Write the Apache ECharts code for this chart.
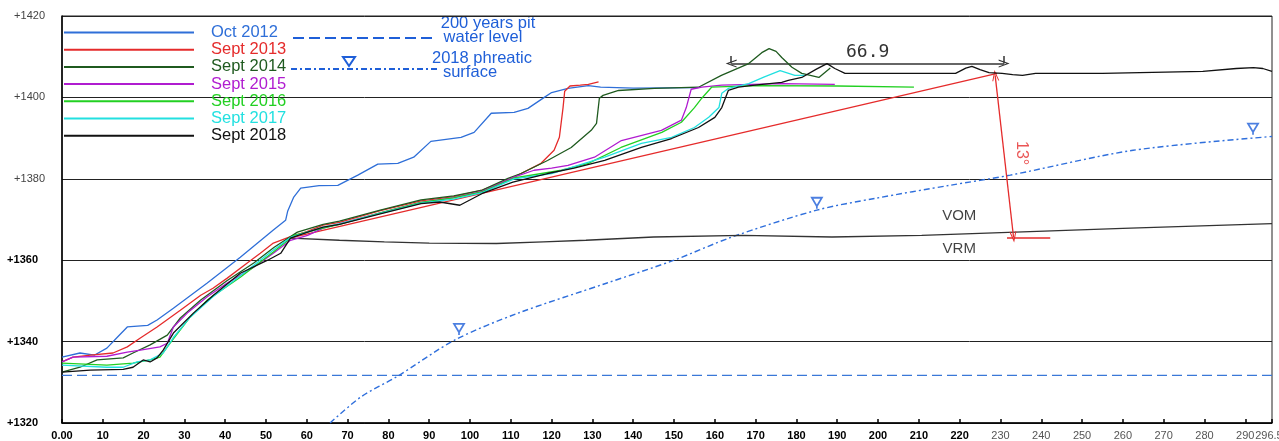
<!DOCTYPE html>
<html><head><meta charset="utf-8">
<script src="https://cdn.jsdelivr.net/npm/echarts@6/dist/echarts.min.js"></script>
<style>html,body{margin:0;padding:0;background:#fff;overflow:hidden;width:1279px;height:441px}#c{width:1279px;height:441px}</style>
</head><body><div id="c"></div>
<script>
const FONT = '"Liberation Sans", Arial, sans-serif';
const xMin = 0, xMax = 296.55, xStep = 10;
const yMin = 1320, yMax = 1420, yStep = 20;

const surveyNames = ['Oct 2012', 'Sept 2013', 'Sept 2014', 'Sept 2015', 'Sept 2016', 'Sept 2017', 'Sept 2018'];
const surveyColors = ['#2f6fd8', '#e52b2b', '#1f5a1f', '#b01cd0', '#22d022', '#22e0e0', '#111111'];

const oct2012 = [[0,1336.2],[4.4,1337.2],[8,1336.7],[11,1338.4],[13.5,1341],[16,1343.6],[21,1344],[23.3,1345.3],[27.3,1348.2],[35.6,1354.4],[43.7,1360.7],[51.8,1367.4],[54.8,1369.8],[55.3,1372],[56.8,1375.5],[58.5,1377.7],[63,1378.3],[67.6,1378.4],[72.5,1380.9],[77.4,1383.6],[82.3,1383.8],[86.2,1385.3],[90.4,1389.2],[97.8,1390.2],[101,1391.4],[105.2,1396.1],[110.8,1396.3],[114.2,1397.3],[118.2,1400],[120,1401.2],[124,1402.2],[129,1402.9],[132,1402.5],[140,1402.3],[156,1402.4]];
const sept2013 = [[0,1335],[2.7,1336.2],[7,1336.7],[12.5,1337.2],[16,1338.7],[19.2,1340.9],[23.3,1343.6],[29,1347.7],[34,1351.4],[37,1353.1],[40.5,1355.6],[45.4,1359.3],[48.6,1361.7],[51.8,1364.2],[56,1365.8],[60,1367],[64,1368.6],[68,1369.3],[78,1372.2],[88,1374.6],[96,1375.6],[103,1377.2],[109,1379.6],[112.5,1381.3],[117.4,1383.8],[120.6,1387],[121.9,1390.2],[122.8,1397.5],[123.2,1401.5],[124.5,1402.8],[127,1403],[129,1403.2],[131.5,1403.8]];
const sept2014 = [[0,1332.5],[4.4,1333.7],[8.6,1335.5],[15,1336],[17.4,1337.2],[21.6,1339.2],[25.8,1341.6],[29,1345.8],[34,1350.2],[40.5,1355],[47,1359.3],[52,1363.2],[57.7,1366.9],[64,1368.8],[68,1369.6],[78,1372.3],[88,1374.8],[96,1375.8],[103,1377.2],[109.3,1380.1],[112.5,1381.3],[119,1384.5],[124.8,1387.7],[129.7,1391.9],[131,1393.6],[131.7,1399.8],[132.6,1400.5],[136.4,1401.7],[145.2,1402.2],[156,1402.5],[161.6,1405.4],[168.3,1408.3],[171.5,1411],[173.3,1412],[175,1411.3],[176.4,1409.8],[178.9,1407.4],[181.3,1405.9],[185.5,1404.9],[188.3,1407.2]];
const sept2015 = [[0,1335],[2.7,1336.2],[11,1336.4],[16,1337.4],[19.2,1337.9],[24,1338.7],[25.8,1339.6],[27.3,1343.6],[30.7,1347],[35.6,1351],[40.5,1354.4],[47,1358.3],[51.8,1361.7],[56,1364.9],[60.2,1366.1],[64,1367.9],[68,1368.9],[78,1371.6],[88,1374.2],[96,1375.4],[103,1376.9],[110.8,1380.4],[115.7,1382.1],[120,1382.6],[124,1383.3],[130.5,1385.3],[137.1,1389.4],[146.9,1391.9],[151.8,1394.4],[153,1397.5],[154.2,1402],[156.8,1402.5],[161.7,1403],[176.4,1403.4],[189.4,1403.2]];
const sept2016 = [[0,1334.7],[11,1334.2],[17.4,1334.7],[21.6,1335.5],[24,1336.2],[26.5,1339.6],[31.4,1346],[35.6,1350.2],[43.7,1355.8],[51.8,1362],[56.8,1366.1],[64,1367.9],[68,1368.8],[78,1371.6],[88,1374.2],[96,1375.3],[103,1376.8],[110.8,1380.2],[122.4,1382.1],[129,1383.8],[137,1387.7],[147,1391.4],[151.8,1393.9],[155,1397.5],[156.8,1399.8],[159.2,1402.5],[170,1402.9],[190,1402.8],[208.8,1402.5]];
const sept2017 = [[0,1334.2],[11,1333.7],[15,1333.7],[18.4,1335],[21.6,1335.5],[24.8,1337.2],[27.3,1341],[31.4,1346],[37,1351],[43.7,1356.2],[51.8,1362.5],[56,1365.6],[64,1368.1],[68,1368.9],[78,1371.5],[88,1374],[96,1375],[103,1376.6],[110.8,1380],[120,1381.3],[133,1385.3],[142,1388.7],[149.4,1390.2],[155,1392.6],[158.5,1395.1],[161,1397.5],[161.7,1401],[163.3,1402.2],[168.3,1403.4],[172,1405],[176,1406.6],[179.6,1405.4],[182,1405.4]];
const sept2018 = [[0,1332.5],[6.9,1333],[15,1333.2],[17.4,1333.7],[19.9,1335.5],[21.6,1335],[23.3,1336],[24.8,1337.9],[27.3,1342.1],[32.2,1347],[37.1,1351.4],[43.7,1356.8],[50.4,1360],[53.6,1361.7],[56,1365.4],[60.2,1366.9],[64,1368.1],[68,1368.8],[78,1371.4],[88,1373.9],[92.6,1374.3],[97.5,1373.5],[103,1376.4],[110.5,1379.2],[119,1381.3],[125.5,1382.6],[133,1384.5],[142,1387.7],[149.4,1389.9],[156,1392.6],[160,1395.1],[161.7,1397.5],[163.3,1401.7],[165.8,1402.5],[169.8,1403],[176.4,1403.7],[178,1404.2],[181.3,1404.9],[185,1407],[187.5,1408.3],[189.4,1407.1],[191.9,1405.9],[197.8,1405.9],[206,1405.9],[219,1405.9],[221.5,1407.2],[223,1407.6],[225,1406.8],[227.2,1406.1],[230.4,1405.9],[233,1405.6],[235.4,1405.4],[238.6,1405.9],[255,1405.9],[279.6,1406.4],[287.8,1407.1],[292,1407.3],[294.3,1407.1],[296.55,1406.4]];
const surveyData = [oct2012, sept2013, sept2014, sept2015, sept2016, sept2017, sept2018];

const slopeLine = [[56,1365.5],[229.2,1405.9]];
const vomBoundary = [[56,1365.4],[68,1364.9],[79,1364.5],[90,1364.2],[106.5,1364.1],[118,1364.5],[128.4,1364.9],[145,1365.7],[166.8,1366.1],[188.7,1365.7],[210.7,1366.1],[233.7,1366.9],[260,1367.8],[296.55,1369]];
const pitWaterLevel = [[0,1331.7],[296.55,1331.7]];
const phreatic2018 = [[65.7,1320],[73.4,1326.5],[82.1,1331.4],[96.3,1340.4],[111.8,1347],[133.6,1354.4],[150,1360],[164.2,1365.7],[185,1372.3],[199.3,1375.2],[217.6,1378.4],[232.4,1380.9],[262.5,1387],[296.55,1390.4]];
const phreaticMarkers = [[97.3,1343],[185,1374],[291.9,1392.2]];

const dimStart = [164, 1408.3];
const dimEnd = [230.9, 1408.3];
const dimTickTop = 1410.2;
const arcTop = [228.7, 1405.4];
const arcBottom = [233.2, 1365.7];
const angleBase = [[231.6, 1365.4], [242.2, 1365.4]];
const zoneLabels = [['VOM', 219.9, 1370.8], ['VRM', 219.9, 1362.7]];
const angleLabel = ['13°', 235.2, 1386.3];

const chevron = 'path://M5,0 L10,12 L8.6,12 L5,3.4 L1.4,12 L0,12 Z';
const triSym = 'path://M0,0 L12,0 L6,10 Z M6,10 L6,13';

const chart = echarts.init(document.getElementById('c'), null, {renderer: 'canvas', width: 1279, height: 441});

const surveySeries = surveyNames.map((n, i) => ({
  name: n, type: 'line', data: surveyData[i], showSymbol: false, symbol: 'none',
  lineStyle: {color: surveyColors[i], width: 1.3}, itemStyle: {color: surveyColors[i]},
  z: 5 + i, animation: false
}));

const option = {
  animation: false,
  backgroundColor: '#fff',
  grid: {left: 62, right: 7, top: 16, bottom: 18, show: true, borderColor: '#222', borderWidth: 1,
         containLabel: false, outerBoundsMode: 'none'},
  legend: {
    orient: 'vertical', left: 64, top: 24, padding: 0, itemWidth: 130, itemHeight: 2, itemGap: 0.2,
    icon: 'rect', selectedMode: false,
    textStyle: {fontFamily: FONT, fontSize: 16.5, padding: [0, 0, 0, 12]},
    data: surveyNames.map((n, i) => ({name: n, textStyle: {color: surveyColors[i]}}))
  },
  xAxis: {
    type: 'value', min: xMin, max: xMax, interval: xStep,
    axisLine: {lineStyle: {color: '#000', width: 1.5}},
    axisTick: {inside: true, length: 4, lineStyle: {color: '#000', width: 1.5}},
    splitLine: {show: false},
    axisLabel: {
      margin: 7, fontFamily: FONT, hideOverlap: false,
      formatter: v => {
        const s = v === 0 ? '0.00' : (Number.isInteger(v) ? String(v) : v.toFixed(2));
        return v <= 220 ? '{b|' + s + '}' : '{n|' + s + '}';
      },
      rich: {
        b: {fontFamily: FONT, fontSize: 11, fontWeight: 'bold', color: '#000'},
        n: {fontFamily: FONT, fontSize: 11, color: '#555'}
      }
    }
  },
  yAxis: {
    type: 'value', min: yMin, max: yMax, interval: yStep,
    axisLine: {show: true, lineStyle: {color: '#000', width: 1.5}},
    axisTick: {show: false},
    splitLine: {lineStyle: {color: '#222', width: 1}},
    axisLabel: {
      margin: 17, fontFamily: FONT,
      formatter: v => v >= 1380 ? '{n|+' + v + '}' : '{b|+' + v + '}',
      rich: {
        n: {fontFamily: FONT, fontSize: 11, color: '#444'},
        b: {fontFamily: FONT, fontSize: 11, fontWeight: 'bold', color: '#000', padding: [0, 7, 0, 0]}
      }
    }
  },
  series: [
    {name: 'pit', type: 'line', data: pitWaterLevel, symbol: 'none', z: 2,
     lineStyle: {color: '#3a78d8', width: 1.4, type: [10, 5]}},
    {name: 'phreatic', type: 'line', data: phreatic2018, symbol: 'none', smooth: 0.3, z: 2,
     lineStyle: {color: '#2f6fdc', width: 1.4, type: [6, 3, 2, 3]}},
    {name: 'phreaticMarks', type: 'scatter', data: phreaticMarkers, symbol: triSym, symbolSize: [10, 11], z: 3,
     itemStyle: {color: 'rgba(0,0,0,0)', borderColor: '#1f5fd8', borderWidth: 1.8}},
    {name: 'vom', type: 'line', data: vomBoundary, symbol: 'none', z: 2,
     lineStyle: {color: '#333', width: 1.3}},
    {name: 'slope', type: 'line', data: slopeLine, symbol: 'none', z: 4,
     lineStyle: {color: '#e52b2b', width: 1.3}},
    ...surveySeries,
    {name: 'annot', type: 'line', data: [], symbol: 'none', z: 20,
     markLine: {
       silent: true, animation: false,
       data: [
         [{coord: dimStart, symbol: chevron, symbolSize: [8, 11],
           lineStyle: {color: '#333', width: 1.5, type: 'solid'},
           label: {show: true, position: 'insideMiddleTop', distance: 2,
                   formatter: () => (dimEnd[0] - dimStart[0]).toFixed(1),
                   fontFamily: '"DejaVu Sans Mono", monospace', fontSize: 18, color: '#333'}},
          {coord: dimEnd, symbol: chevron, symbolSize: [8, 11]}],
         [{coord: dimStart, symbol: 'none', lineStyle: {color: '#333', width: 1.5, type: 'solid'}, label: {show: false}},
          {coord: [dimStart[0], dimTickTop], symbol: 'none'}],
         [{coord: dimEnd, symbol: 'none', lineStyle: {color: '#333', width: 1.5, type: 'solid'}, label: {show: false}},
          {coord: [dimEnd[0], dimTickTop], symbol: 'none'}],
         [{coord: arcTop, symbol: chevron, symbolSize: [7, 11],
           lineStyle: {color: '#e52b2b', width: 1.3, type: 'solid', curveness: 0.05}, label: {show: false}},
          {coord: arcBottom, symbol: chevron, symbolSize: [7, 11]}],
         [{coord: angleBase[0], symbol: 'none', lineStyle: {color: '#e52b2b', width: 1.5, type: 'solid'}, label: {show: false}},
          {coord: angleBase[1], symbol: 'none'}]
       ]
     }},
    {name: 'texts', type: 'scatter', symbolSize: 0, z: 21, silent: true,
     data: zoneLabels.map(t => ({name: t[0], value: [t[1], t[2]]})).concat([
       {name: angleLabel[0], value: [angleLabel[1], angleLabel[2]],
        label: {rotate: -90, color: '#e52b2b', fontSize: 16}}]),
     label: {show: true, position: 'inside', formatter: '{b}', fontFamily: FONT, fontSize: 15, color: '#111'}}
  ],
  graphic: [
    {type: 'line', shape: {x1: 293, y1: 38, x2: 437, y2: 38}, style: {stroke: '#1f5fd8', lineWidth: 2, lineDash: [11, 5]}},
    {type: 'text', x: 488, y: 23, style: {text: '200 years pit', font: '16.5px ' + FONT, fill: '#1f5fd8', align: 'center', verticalAlign: 'middle'}},
    {type: 'text', x: 483, y: 37, style: {text: 'water level', font: '16.5px ' + FONT, fill: '#1f5fd8', align: 'center', verticalAlign: 'middle'}},
    {type: 'line', shape: {x1: 291, y1: 69, x2: 437, y2: 69}, style: {stroke: '#1f5fd8', lineWidth: 2, lineDash: [6, 3, 2, 3]}},
    {type: 'polygon', shape: {points: [[343, 57], [355, 57], [349, 66]]}, style: {fill: 'none', stroke: '#1f5fd8', lineWidth: 2}},
    {type: 'text', x: 482, y: 58, style: {text: '2018 phreatic', font: '16.5px ' + FONT, fill: '#1f5fd8', align: 'center', verticalAlign: 'middle'}},
    {type: 'text', x: 470, y: 72, style: {text: 'surface', font: '16.5px ' + FONT, fill: '#1f5fd8', align: 'center', verticalAlign: 'middle'}}
  ]
};
chart.setOption(option);
</script></body></html>
